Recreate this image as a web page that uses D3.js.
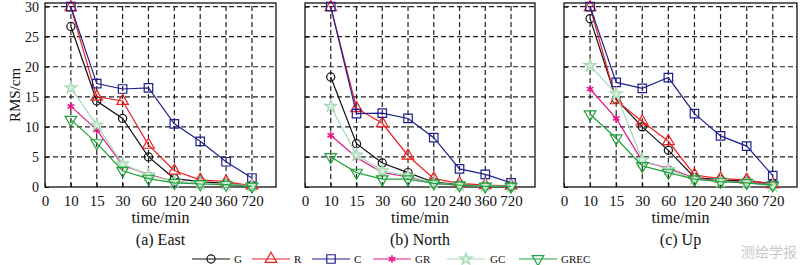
<!DOCTYPE html>
<html>
<head>
<meta charset="utf-8">
<script src="https://cdn.jsdelivr.net/npm/d3@7"></script>
<style>
  body { margin: 0; background: #fff; }
  svg { display: block; }
  svg text { font-family: "Liberation Serif", "Times New Roman", serif; }
  svg text.wm { font-family: "Noto Sans CJK SC", sans-serif; }
</style>
</head>
<body>
<svg id="chart" width="800" height="265"></svg>
<script>
// x categories (minutes) and y ticks
const timeLabels = ["0", "10", "15", "30", "60", "120", "240", "360", "720"]
const yTicks = [0, 5, 10, 15, 20, 25, 30]
const seriesNames = ["G", "R", "C", "GR", "GC", "GREC"]
const panelTitles = ["(a) East", "(b) North", "(c) Up"]

// RMS/cm at 10, 15, 30, 60, 120, 240, 360, 720 min
const eastG    = [26.7, 14.3, 11.4, 5.0, 1.4, 0.9, 0.6, 0.2]
const eastR    = [29.9, 15.0, 14.3, 7.0, 2.7, 1.2, 0.9, 0.2]
const eastC    = [30.0, 17.2, 16.3, 16.5, 10.5, 7.6, 4.2, 1.5]
const eastGR   = [13.4, 9.5, 3.6, 2.1, 0.9, 0.6, 0.5, 0.2]
const eastGC   = [16.5, 10.3, 3.8, 2.0, 0.9, 0.6, 0.5, 0.2]
const eastGREC = [11.2, 7.3, 2.7, 1.4, 0.7, 0.5, 0.4, 0.1]

const northG    = [18.3, 7.2, 4.0, 2.4, 0.8, 0.4, 0.2, 0.1]
const northR    = [29.9, 13.1, 10.6, 5.2, 1.4, 0.6, 0.3, 0.2]
const northC    = [30.0, 12.2, 12.3, 11.4, 8.2, 3.0, 2.1, 0.7]
const northGR   = [8.6, 4.9, 2.4, 1.7, 0.6, 0.3, 0.2, 0.1]
const northGC   = [13.4, 5.3, 2.7, 1.8, 0.7, 0.3, 0.2, 0.1]
const northGREC = [5.0, 2.4, 1.3, 1.3, 0.6, 0.3, 0.1, 0.1]

const upG    = [28.0, 14.6, 10.0, 6.1, 1.6, 1.2, 1.0, 0.6]
const upR    = [29.9, 14.4, 10.9, 7.6, 2.0, 1.4, 1.2, 0.4]
const upC    = [30.0, 17.4, 16.4, 18.2, 12.2, 8.5, 6.8, 1.9]
const upGR   = [16.3, 11.4, 4.3, 3.1, 1.5, 1.0, 0.8, 0.3]
const upGC   = [20.2, 15.5, 4.5, 2.9, 1.3, 0.9, 0.7, 0.2]
const upGREC = [12.1, 8.1, 3.5, 2.4, 1.3, 0.9, 0.7, 0.3]

const panelData = [
  [eastG, eastR, eastC, eastGR, eastGC, eastGREC],
  [northG, northR, northC, northGR, northGC, northGREC],
  [upG, upR, upC, upGR, upGC, upGREC]
]

const colors = ["#111111", "#f01e1e", "#1f1f8f", "#e4168a", "#a6d9b4", "#1ea33a"]

const svg = d3.select("#chart")

// panel boxes
const panels = [
  { x0: 45, x1: 276 },
  { x0: 305, x1: 535 },
  { x0: 564, x1: 797 }
]
const plotTop = 3, plotBottom = 187

const y = d3.scaleLinear().domain([0, 30.6]).range([plotBottom, plotTop])

function marker(g, i, color) {
  const m = g.append("path").attr("fill", "none").attr("stroke", color).attr("stroke-width", 1.2)
  if (i === 0) m.attr("d", d3.symbol(d3.symbolCircle, 52)())
  else if (i === 1) m.attr("d", d3.symbol(d3.symbolTriangle, 58)())
  else if (i === 2) m.attr("d", d3.symbol(d3.symbolSquare, 72)())
  else if (i === 3) m.attr("d", d3.symbol(d3.symbolAsterisk || d3.symbolCross, 40)()).attr("stroke-width", 1.6)
  else if (i === 4) m.attr("d", d3.symbol(d3.symbolStar, 45)()).attr("fill", "#d9efe0")
  else m.attr("d", d3.symbol(d3.symbolTriangle, 58)()).attr("transform", "rotate(180)")
  return m
}

panels.forEach((p, pi) => {
  const x = d3.scaleLinear().domain([0, 8.93]).range([p.x0, p.x1])
  const g = svg.append("g")

  // dashed grid
  g.selectAll(".vg").data(d3.range(1, 9)).join("line")
    .attr("x1", d => x(d)).attr("x2", d => x(d))
    .attr("y1", plotBottom).attr("y2", plotTop)
    .attr("stroke", "#222").attr("stroke-width", 1.2).attr("stroke-dasharray", "5,3")
  g.selectAll(".hg").data(yTicks.slice(1)).join("line")
    .attr("x1", p.x0).attr("x2", p.x1)
    .attr("y1", d => y(d)).attr("y2", d => y(d))
    .attr("stroke", "#222").attr("stroke-width", 1.2).attr("stroke-dasharray", "5,3")

  // axes
  const xAxis = d3.axisBottom(x).tickValues(d3.range(9)).tickFormat(i => timeLabels[i])
    .tickSizeInner(-4).tickSizeOuter(0).tickPadding(8)
  const ax = g.append("g").attr("transform", `translate(0,${plotBottom})`).call(xAxis)
    .attr("font-family", null).attr("font-size", null)
  ax.select(".domain").remove()
  ax.selectAll("text").style("font-size", "15px").attr("fill", "#111")
  ax.selectAll("line").attr("stroke", "#111")

  const yAxis = d3.axisLeft(y).tickValues(yTicks).tickSizeInner(-4).tickSizeOuter(0).tickPadding(6)
  const ay = g.append("g").attr("transform", `translate(${p.x0},0)`).call(yAxis)
    .attr("font-family", null).attr("font-size", null)
  ay.select(".domain").remove()
  ay.selectAll("line").attr("stroke", "#111")
  ay.selectAll("text").style("font-size", "14px").attr("fill", "#111")
  if (pi > 0) ay.selectAll("text").remove()

  // box
  g.append("rect").attr("x", p.x0).attr("y", plotTop)
    .attr("width", p.x1 - p.x0).attr("height", plotBottom - plotTop)
    .attr("fill", "none").attr("stroke", "#111").attr("stroke-width", 1.3)

  // series
  panelData[pi].forEach((vals, si) => {
    const line = d3.line().x((d, k) => x(k + 1)).y(d => y(d))
    g.append("path").attr("d", line(vals)).attr("fill", "none")
      .attr("stroke", colors[si]).attr("stroke-width", 1.2)
    vals.forEach((v, k) => {
      const mg = g.append("g").attr("transform", `translate(${x(k + 1)},${y(v)})`)
      marker(mg, si, colors[si])
    })
  })

  const cx = (p.x0 + p.x1) / 2
  svg.append("text").attr("x", cx).attr("y", 223).attr("text-anchor", "middle")
    .style("font-size", "16px").attr("fill", "#111").text("time/min")
  svg.append("text").attr("x", cx).attr("y", 245).attr("text-anchor", "middle")
    .style("font-size", "16px").attr("fill", "#111").text(panelTitles[pi])
})

// y label
svg.append("text").attr("transform", "translate(20,95) rotate(-90)")
  .attr("text-anchor", "middle").style("font-size", "15px").attr("fill", "#111").text("RMS/cm")

// legend
const legendX = [192, 252, 312, 373, 447, 519]
const legendY = 259
seriesNames.forEach((name, i) => {
  const lg = svg.append("g").attr("transform", `translate(${legendX[i]},${legendY})`)
  lg.append("line").attr("x1", 0).attr("x2", 38).attr("stroke", colors[i]).attr("stroke-width", 1.2)
  const mg = lg.append("g").attr("transform", "translate(19,0)")
  marker(mg, i, colors[i])
  lg.append("text").attr("x", i === 4 ? 43 : 42).attr("y", 4).style("font-size", "11px")
    .attr("fill", "#111").text(name)
})

// watermark
svg.append("text").attr("class", "wm").attr("x", 769).attr("y", 257).attr("text-anchor", "middle")
  .style("font-size", "14px").attr("fill", "#c8c8c8")
  .text("测绘学报")
</script>
</body>
</html>
